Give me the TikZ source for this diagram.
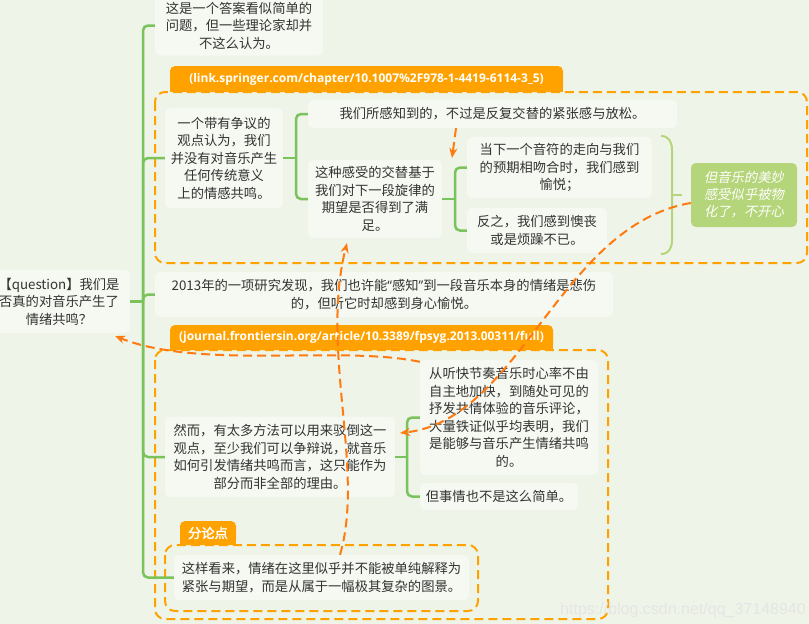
\documentclass[tikz,border=0pt]{standalone}
\usepackage{fontspec}
\setmainfont{Noto Sans CJK SC}
\newfontfamily\urlfont{Open Sans}
\newfontfamily\slantfont{Noto Sans CJK SC}[FakeSlant=0.2]
\newfontfamily\heavyfont{Noto Sans CJK SC}[FakeBold=2]
\newfontfamily\markfont{Liberation Sans}
\usetikzlibrary{arrows.meta}
\definecolor{bgcolor}{HTML}{EEF4E8}
\definecolor{nodefill}{HTML}{F5F9F1}
\definecolor{inkgray}{HTML}{333333}
\definecolor{branchgreen}{HTML}{7AC35C}
\definecolor{tabfill}{HTML}{FFA200}
\definecolor{relorange}{HTML}{FF7A10}
\definecolor{calloutgreen}{HTML}{B5D57A}

\begin{document}
\begin{tikzpicture}[
  x=1pt,
  y=-1pt,
  every node/.style={font=\fontsize{13.3}{17.5}\selectfont, text=inkgray},
  topic/.style={fill=nodefill, rounded corners=5pt, align=center, inner sep=0pt},
  tabtext/.style={inner sep=0pt, text=white},
  zone/.style={draw=tabfill, line width=2pt, dash pattern=on 9pt off 5pt, rounded corners=10pt},
  branch/.style={draw=branchgreen, line width=2.5pt, rounded corners=5pt},
  brace/.style={draw=calloutgreen, line width=2pt},
  relation/.style={draw=relorange, line width=2pt, dash pattern=on 9pt off 5pt,
                   -{Stealth[length=10pt,width=8pt]}}
]
  \useasboundingbox (0,0) rectangle (809,624);
  \clip (0,0) rectangle (809,624);
  \fill[bgcolor] (0,0) rectangle (809,624);

  % ---- boundaries and their tabs ---------------------------------------
  \draw[zone] (155,92) rectangle (807,263);
  \fill[tabfill, rounded corners=5pt] (170,66) rectangle (563,92);
  \fill[tabfill] (170,79) rectangle (563,92);
  \node[tabtext, font=\urlfont\bfseries\fontsize{12}{14}\selectfont] (springer) at (366.5,79)
    {(link.springer.com/chapter/10.1007\%2F978-1-4419-6114-3\_5)};

  \draw[zone] (155,350) rectangle (608,619);
  \fill[tabfill, rounded corners=5pt] (170,325) rectangle (553,350);
  \fill[tabfill] (170,337) rectangle (553,350);
  \node[tabtext, font=\urlfont\bfseries\fontsize{12}{14}\selectfont] (frontiers) at (361.5,337.5)
    {(journal.frontiersin.org/article/10.3389/fpsyg.2013.00311/full)};

  \draw[zone] (165,545) rectangle (478,611);
  \fill[tabfill, rounded corners=5pt] (180,521) rectangle (236,545);
  \fill[tabfill] (180,533) rectangle (236,545);
  \node[tabtext, font=\heavyfont\fontsize{13.3}{16}\selectfont] (subpoint) at (208,533) {分论点};

  % ---- topics ----------------------------------------------------------
  \node[topic, minimum width=142pt, minimum height=63pt] (question) at (59,301.5)
    {【question】我们是\\否真的对音乐产生了\\情绪共鸣？};

  \node[topic, minimum width=168pt, minimum height=60pt] (easyq) at (239,25.5)
    {这是一个答案看似简单的\\问题，但一些理论家却并\\不这么认为。};

  \node[topic, minimum width=118pt, minimum height=100pt] (claim) at (224,158)
    {一个带有争议的\\观点认为，我们\\并没有对音乐产生\\任何传统意义\\上的情感共鸣。};
  \node[topic, minimum width=369pt, minimum height=28pt] (tension) at (492.5,114)
    {我们所感知到的，不过是反复交替的紧张感与放松。};
  \node[topic, minimum width=134pt, minimum height=78pt] (expect) at (375,199)
    {这种感受的交替基于\\我们对下一段旋律的\\期望是否得到了满\\足。};
  \node[topic, minimum width=185pt, minimum height=61pt] (pleased) at (559.5,167.5)
    {当下一个音符的走向与我们\\的预期相吻合时，我们感到\\愉悦；};
  \node[topic, minimum width=140pt, minimum height=45pt] (upset) at (537,230.5)
    {反之，我们感到懊丧\\或是烦躁不已。};
  \node[topic, fill=calloutgreen, text=white, font=\slantfont\fontsize{13.3}{17}\selectfont,
        minimum width=106pt, minimum height=64pt]
    (reified) at (744,195) {但音乐的美妙\\感受似乎被物\\化了，不开心};

  \node[topic, minimum width=458pt, minimum height=45pt] (study) at (384,294.5)
    {2013年的一项研究发现，我们也许能{\urlfont“}感知{\urlfont”}到一段音乐本身的情绪是悲伤\\的，但听它时却感到身心愉悦。};

  \node[topic, minimum width=230pt, minimum height=80pt] (rebut) at (280,457)
    {然而，有太多方法可以用来驳倒这一\\观点，至少我们可以争辩说，就音乐\\如何引发情绪共鸣而言，这只能作为\\部分而非全部的理由。};
  \node[topic, minimum width=178pt, minimum height=115pt] (evidence) at (509,417.5)
    {从听快节奏音乐时心率不由\\自主地加快，到随处可见的\\抒发共情体验的音乐评论，\\大量铁证似乎均表明，我们\\是能够与音乐产生情绪共鸣\\的。};
  \node[topic, minimum width=158pt, minimum height=27pt] (notsimple) at (499,496.5)
    {但事情也不是这么简单。};

  \node[topic, minimum width=295pt, minimum height=45pt] (picture) at (321.5,577.5)
    {这样看来，情绪在这里似乎并不能被单纯解释为\\紧张与期望，而是从属于一幅极其复杂的图景。};

  \node[font=\markfont\fontsize{16}{18}\selectfont, text=white!80!gray] (mark) at (683,610)
    {https://blog.csdn.net/qq\_37148940};

  % ---- branches --------------------------------------------------------
  \coordinate (trunk) at (143,301.5);
  \draw[branch] (question.east) -- (trunk);
  \foreach \child in {easyq, claim, study, rebut, picture}
    \draw[branch] (trunk) |- (\child.west);

  \coordinate (claimfork) at (296,158);
  \draw[branch] (claim.east) -- (claimfork);
  \foreach \child in {tension, expect}
    \draw[branch] (claimfork) |- (\child.west);

  \coordinate (expectfork) at (455,199);
  \draw[branch] (expect.east) -- (expectfork);
  \foreach \child in {pleased, upset}
    \draw[branch] (expectfork) |- (\child.west);

  \coordinate (rebutfork) at (407,457);
  \draw[branch] (rebut.east) -- (rebutfork);
  \foreach \child in {evidence, notsimple}
    \draw[branch] (rebutfork) |- (\child.west);

  % summary brace
  \draw[brace] (661,136) .. controls (669,136) and (672,142) .. (672,150)
    -- (672,240) .. controls (672,248) and (669,254) .. (661,254);
  \draw[brace] (672,195) -- (682,195);

  % ---- relationships ---------------------------------------------------
  \coordinate (expecthit) at (452,158);
  \draw[relation] ([xshift=-36.5pt]tension.south) -- (expecthit);

  \coordinate (expectbelow) at (347,243);
  \draw[relation] ([xshift=18.5pt]picture.north) .. controls (365,470) and (320,350) .. (expectbelow);

  \coordinate (rebutright) at (400,433);
  \draw[relation] ([yshift=-8pt]reified.west) .. controls (560,225) and (520,420) .. (rebutright);

  \coordinate (questioncorner) at (115,336);
  \draw[relation] ([yshift=-2pt]evidence.north west) .. controls (340,345) and (200,370) .. (questioncorner);
\end{tikzpicture}
\end{document}
